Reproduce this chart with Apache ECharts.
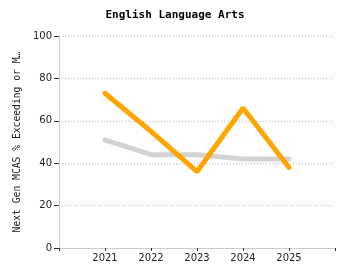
<!DOCTYPE html>
<html><head><meta charset="utf-8">
<script src="https://cdn.jsdelivr.net/npm/echarts@6/dist/echarts.min.js"></script>
<style>html,body{margin:0;padding:0;background:#fff}#c{width:350px;height:280px}</style>
</head><body><div id="c"></div>
<script>
const years = [2021, 2022, 2023, 2024, 2025];
const stateValues = [51, 44, 44, 42, 42];
const schoolValues = [73, 55, 36, 66, 38];
const yTicks = [0, 20, 40, 60, 80, 100];
const titleText = 'English Language Arts';
const yAxisName = 'Next Gen MCAS % Exceeding or Meeting Expectations';

const font = '"DejaVu Sans", Verdana, sans-serif';
const mono = '"DejaVu Sans Mono", "Liberation Mono", monospace';
const chart = echarts.init(document.getElementById('c'), null, {renderer: 'canvas'});
chart.setOption({
  animation: false,
  title: {text: titleText, left: 'center', top: 5,
    textStyle: {fontFamily: mono, fontSize: 11, fontWeight: 'bold', color: '#000'}},
  grid: {left: 59, right: 15, top: 36, bottom: 32, containLabel: false, outerBoundsMode: 'none'},
  xAxis: {type: 'value', min: years[0] - 1, max: years[years.length - 1] + 1, interval: 1,
    axisLine: {lineStyle: {color: '#ccc'}},
    axisTick: {show: true, length: 3, lineStyle: {color: '#333'}},
    splitLine: {show: false},
    axisLabel: {margin: 5, fontFamily: font, fontSize: 10, color: '#222',
      formatter: v => years.includes(v) ? String(v) : ''}},
  yAxis: {type: 'value', min: yTicks[0], max: yTicks[yTicks.length - 1], interval: 20,
    name: yAxisName, nameLocation: 'middle', nameGap: 34,
    nameTruncate: {maxWidth: 184, ellipsis: '…'},
    nameTextStyle: {fontFamily: mono, fontSize: 9.7, color: '#222'},
    axisLine: {show: true, lineStyle: {color: '#ccc'}},
    axisTick: {show: true, length: 5, lineStyle: {color: '#333'}},
    splitLine: {lineStyle: {color: '#bbb', type: [1, 2]}},
    axisLabel: {margin: 7, fontFamily: font, fontSize: 10, color: '#222'}},
  series: [
    {type: 'line', data: years.map((y, i) => [y, stateValues[i]]), showSymbol: false,
      lineStyle: {color: '#d3d3d3', width: 5, cap: 'round'}, z: 2},
    {type: 'line', data: years.map((y, i) => [y, schoolValues[i]]), showSymbol: false,
      lineStyle: {color: '#ffa500', width: 5, cap: 'round'}, z: 3}
  ]
});
</script></body></html>
